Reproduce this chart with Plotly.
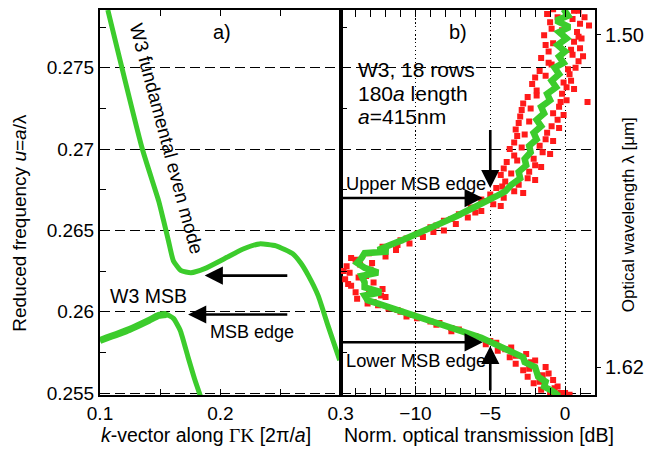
import plotly.graph_objects as go

# ---------------- data ----------------
# Panel a) photonic band structure (k in 2pi/a, u = a/lambda)
upper_k = [0.1065, 0.1350, 0.1488, 0.1529, 0.1569, 0.1610, 0.1675, 0.1756, 0.1870, 0.2033,
           0.2195, 0.2325, 0.2463, 0.2602, 0.2667, 0.2732, 0.2813, 0.2894, 0.2992]
upper_u = [0.27855, 0.27005, 0.26680, 0.26558, 0.26436, 0.26313, 0.26252, 0.26240, 0.26265, 0.26326,
           0.26387, 0.26417, 0.26405, 0.26356, 0.26301, 0.26222, 0.26099, 0.25916, 0.25702]
lower_k = [0.1000, 0.1244, 0.1407, 0.1488, 0.1553, 0.1610, 0.1667, 0.1732, 0.1789, 0.1846]
lower_u = [0.25824, 0.25891, 0.25947, 0.25977, 0.25983, 0.25959, 0.25885, 0.25720, 0.25580, 0.25457]

# Panel b) transmission (averaged, green) vs reduced frequency
avg_u = [0.2786, 0.2782, 0.2779, 0.2775, 0.2772, 0.2768, 0.2764, 0.2760, 0.2757, 0.2753,
         0.2750, 0.2746, 0.2742, 0.2738, 0.2734, 0.2730, 0.2726, 0.2722, 0.2718, 0.2714,
         0.2710, 0.2706, 0.2702, 0.2698, 0.2694, 0.2690, 0.2686, 0.2682, 0.2678, 0.2674,
         0.2671, 0.2668, 0.2665, 0.2662, 0.2659, 0.2656, 0.2653, 0.2650, 0.2647, 0.2644,
         0.2641, 0.2638, 0.2637, 0.2636, 0.2633, 0.2630, 0.2627, 0.2624, 0.2622, 0.2618,
         0.2615, 0.2612, 0.2610, 0.2607, 0.2605, 0.2602, 0.2599, 0.2596, 0.2593, 0.2590,
         0.2587, 0.2584, 0.2581, 0.2578, 0.2575, 0.2572, 0.2569, 0.2566, 0.2563, 0.2560,
         0.2557, 0.2554, 0.2551, 0.2548]
avg_db = [-0.1, 0.2, -0.6, 0.3, -0.4, 0.1, -0.5, 0.0, -0.4, -0.1,
          -0.7, -0.4, -0.9, -0.6, -1.2, -1.0, -1.6, -1.4, -1.9, -1.6,
          -2.1, -1.9, -2.4, -2.3, -2.7, -2.6, -3.1, -3.0, -3.6, -4.0,
          -4.6, -5.2, -5.9, -6.6, -7.2, -7.9, -8.6, -9.3, -10.2, -10.9,
          -11.7, -12.5, -11.8, -13.4, -13.6, -13.9, -13.4, -12.5, -13.6, -13.4,
          -13.4, -12.3, -13.4, -13.2, -12.5, -11.5, -10.4, -9.5, -8.3, -7.4,
          -6.4, -5.6, -4.9, -4.1, -3.5, -2.8, -2.7, -2.0, -1.9, -1.8,
          -1.3, -1.4, -0.8, -0.4]

# raw measured points (red)
raw_u = [0.2786, 0.2785, 0.2783, 0.2781, 0.2780, 0.2778, 0.2776, 0.2774, 0.2772, 0.2770,
         0.2768, 0.2766, 0.2764, 0.2762, 0.2760, 0.2758, 0.2756, 0.2754, 0.2752, 0.2750,
         0.2748, 0.2746, 0.2744, 0.2742, 0.2740, 0.2738, 0.2736, 0.2734, 0.2732, 0.2730,
         0.2729, 0.2728, 0.2726, 0.2724, 0.2722, 0.2720, 0.2718, 0.2716, 0.2714, 0.2712,
         0.2710, 0.2708, 0.2706, 0.2704, 0.2702, 0.2700, 0.2698, 0.2696, 0.2694, 0.2692,
         0.2690, 0.2688, 0.2686, 0.2684, 0.2682, 0.2680, 0.2678, 0.2676, 0.2674, 0.2672,
         0.2670, 0.2668, 0.2666, 0.2664, 0.2662, 0.2660, 0.2658, 0.2656, 0.2654, 0.2652,
         0.2650, 0.2648, 0.2646, 0.2644, 0.2642, 0.2640, 0.2638, 0.2636, 0.2634, 0.2632,
         0.2630, 0.2628, 0.2626, 0.2624, 0.2622, 0.2620, 0.2618, 0.2616, 0.2614, 0.2612,
         0.2610, 0.2608, 0.2606, 0.2604, 0.2602, 0.2600, 0.2598, 0.2596, 0.2594, 0.2592,
         0.2590, 0.2588, 0.2586, 0.2584, 0.2582, 0.2580, 0.2578, 0.2576, 0.2574, 0.2572,
         0.2570, 0.2568, 0.2566, 0.2564, 0.2562, 0.2560, 0.2558, 0.2556, 0.2554, 0.2552,
         0.2550, 0.2549, 0.2549,
         0.2785, 0.2781, 0.2777, 0.2773, 0.2769, 0.2765, 0.2761, 0.2757, 0.2753, 0.2749,
         0.2745, 0.2741, 0.2737, 0.2733, 0.2729, 0.2725, 0.2721, 0.2717, 0.2713, 0.2709,
         0.2705, 0.2701, 0.2697, 0.2693, 0.2689, 0.2685, 0.2681, 0.2677, 0.2673, 0.2669,
         0.2665, 0.2661, 0.2657, 0.2653, 0.2649, 0.2645, 0.2641, 0.2637, 0.2633, 0.2629,
         0.2625, 0.2621, 0.2617, 0.2613, 0.2609, 0.2605, 0.2601, 0.2597, 0.2593, 0.2589,
         0.2585, 0.2581, 0.2577, 0.2573, 0.2569, 0.2565, 0.2561, 0.2557, 0.2553, 0.2550]
raw_db = [-0.8, 0.9, -1.2, 1.3, 0.5, -1.0, 1.6, -0.9, 0.8, -1.4,
          1.1, 0.6, -1.3, 1.0, -1.1, 0.5, -1.6, 0.9, -0.9, 0.7,
          -1.7, 0.3, -2.0, 0.4, -2.2, 0.1, -1.9, -0.2, -2.5, 0.1,
          1.5, -2.8, -0.4, -2.9, -0.8, -3.0, -0.5, -3.1, -0.9, -3.3,
          -1.2, -3.2, -1.3, -3.4, -1.7, -3.7, -1.5, -3.4, -2.1, -3.9,
          -2.0, -4.1, -2.4, -4.3, -2.5, -4.0, -3.1, -4.6, -3.4, -5.0,
          -4.1, -5.4, -4.8, -6.3, -5.6, -7.1, -6.5, -8.1, -7.3, -9.0,
          -8.1, -9.9, -9.5, -11.0, -10.4, -12.2, -11.3, -13.1, -12.0, -14.0,
          -12.9, -14.6, -13.0, -14.4, -13.3, -14.7, -12.8, -14.3, -12.2, -14.0,
          -12.3, -13.9, -12.8, -12.5, -11.8, -11.0, -10.2, -9.9, -9.0, -8.6,
          -7.6, -7.6, -6.5, -6.3, -5.0, -5.3, -3.6, -4.5, -2.6, -3.7,
          -2.0, -3.3, -1.3, -2.8, -1.1, -2.5, -0.8, -2.1, -0.5, -1.6,
          0.0, -1.0, 0.3,
          0.6, -0.5, 1.0, -0.2, 0.9, -0.8, 0.4, 1.2, -1.1, 0.2,
          -1.3, -0.1, 0.6, -1.9, -0.3, -2.3, -0.1, -2.4, -0.4, -2.7,
          -0.8, -2.9, -1.0, -3.2, -1.6, -3.6, -2.0, -4.2, -2.8, -5.6,
          -4.3, -6.0, -7.6, -8.6, -8.8, -10.6, -11.2, -12.2, -14.3, -13.7,
          -14.8, -13.8, -14.5, -13.1, -12.0, -13.2, -11.2, -10.6, -8.4, -7.1,
          -6.0, -4.6, -4.0, -3.3, -2.3, -2.4, -1.5, -1.7, -0.7, -0.3]

u_ticks = [0.255, 0.26, 0.265, 0.27, 0.275]
u_ticktext = ["0.255", "0.26", "0.265", "0.27", "0.275"]
k_ticks = [0.1, 0.2, 0.3]
k_ticktext = ["0.1", "0.2", "0.3"]
db_ticks = [-10, -5, 0]
db_ticktext = ["\u221210", "\u22125", "0"]
wl_ticks = [1.50, 1.62]
wl_ticktext = ["1.50", "1.62"]

U_RANGE = [0.25488, 0.27855]
K_RANGE = [0.1, 0.3]
DB_RANGE = [-15, 2]
WL_RANGE = [1.63006, 1.49102]

GREEN = "#3ccc2c"
RED = "#ff1a1a"
FONT = "Liberation Sans, Arial, sans-serif"
DASH = "10px,5px"
DOT = "1.5px,2.5px"

# ---------------- figure ----------------
W, H = 652, 449
ML, MR, MT, MB = 100, 46, 8, 54
PW = W - ML - MR
PH = H - MT - MB
split = (346 - ML) / PW

fig = go.Figure()

# panel a curves
fig.add_trace(go.Scatter(x=upper_k, y=upper_u, mode="lines", xaxis="x", yaxis="y",
                         line=dict(color=GREEN, width=5, shape="spline", smoothing=0.5)))
fig.add_trace(go.Scatter(x=lower_k, y=lower_u, mode="lines", xaxis="x", yaxis="y",
                         line=dict(color=GREEN, width=5, shape="spline", smoothing=0.5)))
fig.add_trace(go.Scatter(x=lower_k[:5], y=lower_u[:5], mode="lines", xaxis="x", yaxis="y",
                         line=dict(color=GREEN, width=7, shape="spline", smoothing=0.5)))

# panel b data
fig.add_trace(go.Scatter(x=raw_db, y=raw_u, mode="markers", xaxis="x2", yaxis="y2",
                         marker=dict(color=RED, size=6, symbol="square")))
fig.add_trace(go.Scatter(x=avg_db, y=avg_u, mode="lines", xaxis="x2", yaxis="y2",
                         line=dict(color=GREEN, width=6.5)))
# invisible trace to activate wavelength axis
fig.add_trace(go.Scatter(x=[DB_RANGE[0]], y=[WL_RANGE[0]], mode="markers", xaxis="x2", yaxis="y3",
                         marker=dict(opacity=0), hoverinfo="skip"))

tickfont = dict(family=FONT, size=19, color="black")
common = dict(showline=True, linecolor="black", linewidth=2, tickcolor="black", zeroline=False)

fig.update_layout(
    width=W, height=H, showlegend=False,
    margin=dict(l=ML, r=MR, t=MT, b=MB),
    paper_bgcolor="white", plot_bgcolor="white",
    font=dict(family=FONT, size=18, color="black"),
    xaxis=dict(domain=[0, split], range=K_RANGE, anchor="y", tickvals=k_ticks, ticktext=k_ticktext,
               ticks="inside", ticklen=6, mirror="allticks", showgrid=False, tickfont=tickfont,
               minor=dict(dtick=0.05, tick0=0.1, ticks="inside", ticklen=6, tickcolor="black"),
               **common),
    yaxis=dict(domain=[0, 1], range=U_RANGE, anchor="x", tickvals=u_ticks, ticktext=u_ticktext,
               ticks="inside", ticklen=6, mirror=True, showgrid=True, gridcolor="black",
               griddash=DASH, gridwidth=1, tickfont=tickfont,
               minor=dict(dtick=0.0025, tick0=0.255, ticks="inside", ticklen=6, tickcolor="black"),
               **common),
    xaxis2=dict(domain=[split, 1], range=DB_RANGE, anchor="y2", tickvals=db_ticks, ticktext=db_ticktext,
                ticks="inside", ticklen=7, mirror="allticks", showgrid=True, gridcolor="black",
                griddash=DOT, gridwidth=1, tickfont=tickfont,
                minor=dict(dtick=1, tick0=0, ticks="inside", ticklen=5, tickcolor="black"),
                **common),
    yaxis2=dict(domain=[0, 1], range=U_RANGE, anchor="x2", tickvals=u_ticks, showticklabels=False,
                ticks="inside", ticklen=6, mirror=True, showgrid=True, gridcolor="black",
                griddash=DASH, gridwidth=1,
                minor=dict(dtick=0.0025, tick0=0.255, ticks="inside", ticklen=6, tickcolor="black"),
                **common),
    yaxis3=dict(range=WL_RANGE, overlaying="y2", anchor="x2", side="right",
                tickvals=wl_ticks, ticktext=wl_ticktext, ticks="outside", ticklen=5,
                showgrid=False, showline=False, tickcolor="black",
                tickfont=dict(family=FONT, size=20, color="black"), zeroline=False),
)


def px(xp):
    return (xp - ML) / PW


def py(yp):
    return (H - MB - yp) / PH


def txt(x, y, text, size=18, angle=0, xanchor="center", yanchor="middle"):
    fig.add_annotation(x=px(x), y=py(y), xref="paper", yref="paper", text=text, showarrow=False,
                       textangle=angle, xanchor=xanchor, yanchor=yanchor,
                       font=dict(family=FONT, size=size, color="black"))


# axis titles
txt(18, 222, "Reduced frequency <i>u</i>=<i>a</i>/λ", size=19, angle=-90)
txt(208, 435, "<i>k</i>-vector along <span style='font-family:Liberation Serif'>ΓK</span> [2π/<i>a</i>]",
    size=19.5)
txt(487, 435, "Norm. optical transmission [dB]", size=19.5)
txt(641, 214, "Optical wavelength λ [μm]", size=17, angle=-90)

# panel labels & texts
txt(225, 30, "a)", size=20)
txt(466, 30, "b)", size=20)
txt(168, 137, "W3 fundamental even mode", size=19, angle=75)
txt(108, 295, "W3 MSB", size=19.5, xanchor="left")
txt(210, 332, "MSB edge", size=18, xanchor="left")
txt(362, 68, "W3, 18 rows", size=21, xanchor="left")
txt(362, 92, "180<i>a</i> length", size=21, xanchor="left")
txt(362, 115, "<i>a</i>=415nm", size=21, xanchor="left")
txt(349, 182, "Upper MSB edge", size=18.3, xanchor="left")
txt(349, 360, "Lower MSB edge", size=18.3, xanchor="left")


def arrow(x0, y0, x1, y1, xr, yr):
    fig.add_annotation(x=x1, y=y1, ax=x0, ay=y0, xref=xr, yref=yr, axref=xr, ayref=yr,
                       showarrow=True, arrowhead=2, arrowsize=1.4, arrowwidth=2.6,
                       arrowcolor="black", text="")


# panel a arrows (data coords)
arrow(0.2569, 0.26222, 0.1870, 0.26222, "x", "y")
arrow(0.2569, 0.25983, 0.1732, 0.25983, "x", "y")
# panel b arrows
arrow(-15.0, 0.26699, -5.5, 0.26699, "x2", "y2")
arrow(-5.0, 0.27127, -5.0, 0.26760, "x2", "y2")
arrow(-15.0, 0.25812, -5.5, 0.25812, "x2", "y2")
arrow(-5.0, 0.25506, -5.0, 0.25790, "x2", "y2")

fig.write_html("out.html")
